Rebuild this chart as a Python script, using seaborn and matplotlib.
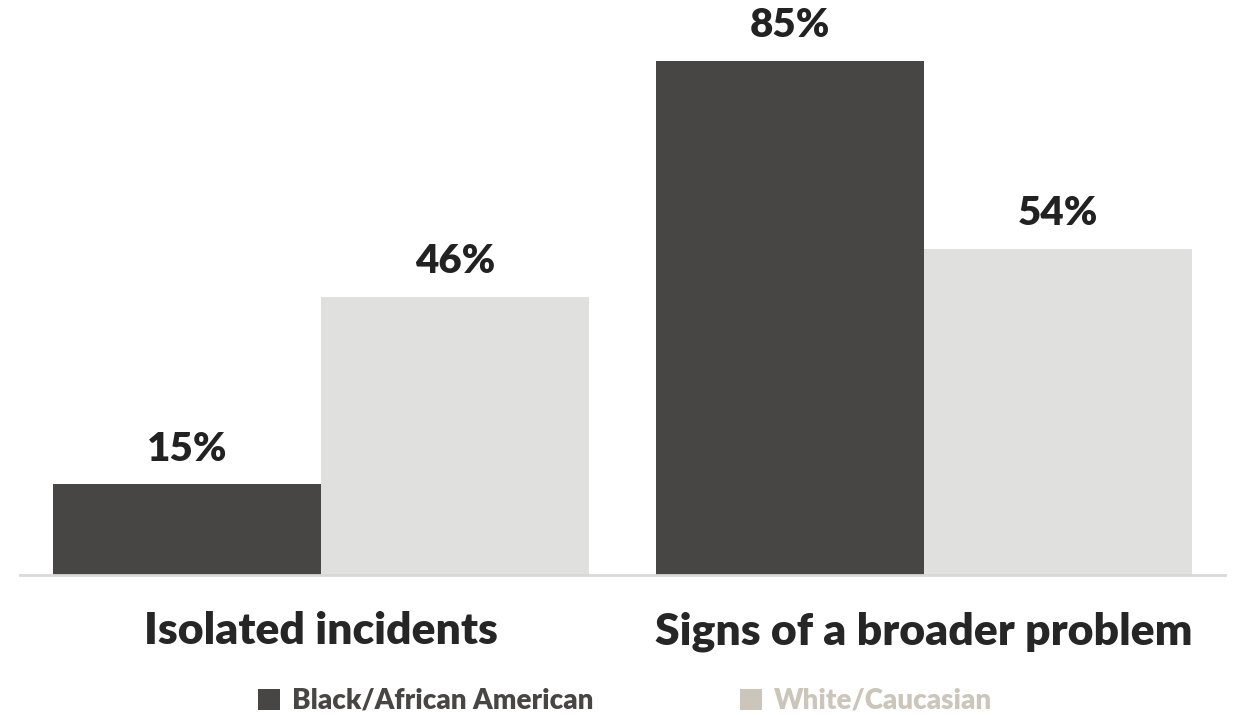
import pandas as pd
import matplotlib.pyplot as plt
import seaborn as sns

categories = ["Isolated incidents", "Signs of a broader problem"]
groups = ["Black/African American", "White/Caucasian"]
black_vals = [15, 85]
white_vals = [46, 54]

bar_colors = ["#474645", "#e0e0df"]
legend_colors = ["#474645", "#cbc5ba"]

df = pd.DataFrame({
    "category": categories * 2,
    "group": [groups[0]] * 2 + [groups[1]] * 2,
    "value": black_vals + white_vals,
})

sns.set_style("white")
plt.rcParams['font.family'] = ['Lato', 'DejaVu Sans']

fig = plt.figure(figsize=(12.36, 7.15), dpi=100)
ax = fig.add_axes([20 / 1236, 140 / 715, 1205 / 1236, 575 / 715])

sns.barplot(data=df, x="category", y="value", hue="group", palette=bar_colors,
            width=0.89, saturation=1, ax=ax, linewidth=0)

ax.set_ylim(0, 95.1)
ax.set_xlim(-0.5, 1.5)

# value labels above bars
for cont in ax.containers:
    ax.bar_label(cont, labels=[f"{v:.0f}%" for v in cont.datavalues], padding=12,
                 fontsize=29, fontweight="heavy", color="#222222")

for s in ["top", "right", "left"]:
    ax.spines[s].set_visible(False)
ax.spines["bottom"].set_color("#d9d9d9")
ax.spines["bottom"].set_linewidth(2)
ax.set_yticks([])
ax.set_xlabel("")
ax.set_ylabel("")
ax.tick_params(axis="x", length=0, pad=26)
for lbl in ax.get_xticklabels():
    lbl.set_fontsize(32)
    lbl.set_fontweight("heavy")
    lbl.set_color("#262626")

leg = ax.legend(loc="center", bbox_to_anchor=(625 / 1236, 14 / 715), bbox_transform=fig.transFigure,
                ncol=2, frameon=False, fontsize=20, handlelength=0.8, handleheight=0.8,
                handletextpad=0.4, columnspacing=5.3)
for h, c in zip(leg.legend_handles, legend_colors):
    h.set_facecolor(c)
    h.set_edgecolor(c)
for t, c in zip(leg.get_texts(), legend_colors):
    t.set_color(c)
    t.set_fontweight("heavy")

fig.savefig("out.png", dpi=100)
